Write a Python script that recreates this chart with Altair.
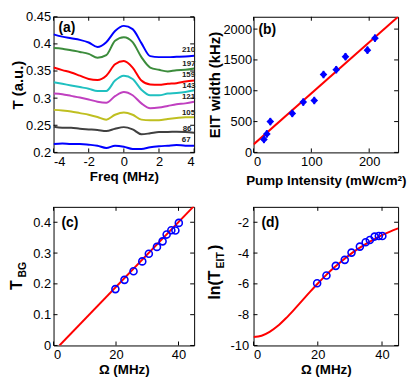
import altair as alt
import pandas as pd

FONT = "Liberation Sans"

# ---------------- panel (a) ----------------
freq = [-4, -3.5, -3, -2.5, -2, -1.5, -1, -0.5, 0, 0.5, 1, 1.5, 2, 2.5, 3, 3.5, 4]
t210 = [0.4176, 0.4134, 0.4104, 0.4074, 0.4026, 0.3942, 0.4032, 0.4236, 0.4332, 0.4272, 0.4014, 0.3774, 0.3756, 0.3756, 0.3762, 0.3768, 0.3780]
t197 = [0.3924, 0.3912, 0.3882, 0.3852, 0.3816, 0.3744, 0.3792, 0.4056, 0.4122, 0.4032, 0.3756, 0.3564, 0.3522, 0.3492, 0.3516, 0.3522, 0.3546]
t159 = [0.3564, 0.3516, 0.3474, 0.3414, 0.3354, 0.3336, 0.3414, 0.3624, 0.3684, 0.3564, 0.3324, 0.3252, 0.3246, 0.3264, 0.3276, 0.3306, 0.3324]
t143 = [0.3294, 0.3264, 0.3234, 0.3204, 0.3174, 0.3132, 0.3132, 0.3324, 0.3414, 0.3354, 0.3156, 0.3054, 0.3054, 0.3084, 0.3096, 0.3114, 0.3144]
t121 = [0.3084, 0.3072, 0.3042, 0.3012, 0.2976, 0.2934, 0.2916, 0.3036, 0.3114, 0.3054, 0.2904, 0.2814, 0.2826, 0.2856, 0.2886, 0.2904, 0.2934]
t105 = [0.2784, 0.2772, 0.2754, 0.2724, 0.2694, 0.2652, 0.2604, 0.2694, 0.2736, 0.2694, 0.2604, 0.2592, 0.2592, 0.2616, 0.2634, 0.2646, 0.2646]
t86 = [0.2472, 0.2454, 0.2454, 0.2436, 0.2424, 0.2412, 0.2394, 0.2436, 0.2466, 0.2424, 0.2334, 0.2352, 0.2376, 0.2376, 0.2382, 0.2376, 0.2364]
t67 = [0.2154, 0.2166, 0.2154, 0.2154, 0.2142, 0.2124, 0.2082, 0.2124, 0.2106, 0.2064, 0.2064, 0.2094, 0.2112, 0.2124, 0.2136, 0.2124, 0.2124]
series_names = ["210", "197", "159", "143", "121", "105", "86", "67"]
series_vals = [t210, t197, t159, t143, t121, t105, t86, t67]
series_colors = ["#0000ff", "#3c8c3c", "#ff0000", "#20c0c0", "#c040c0", "#bfbf20", "#404040", "#0000ff"]
label_x = [3.68, 3.7, 3.68, 3.7, 3.68, 3.68, 3.6, 3.55]
label_y = [0.389, 0.362, 0.342, 0.323, 0.303, 0.272, 0.243, 0.222]

# ---------------- panel (b) ----------------
pump = [18, 23, 29, 67, 86, 105, 121, 143, 159, 197, 210]
eit_width = [210, 300, 500, 632, 816, 842, 1263, 1342, 1553, 1658, 1853]
eit_err = [60, 60, 60, 60, 60, 60, 60, 60, 60, 60, 60]
fit_b_x = [0, 250]
fit_b_y = [130, 2200]

# ---------------- panel (c) ----------------
omega = [19.8, 22.7, 25.6, 28.4, 30.5, 33.1, 34.9, 36.2, 37.7, 39.0, 40.1]
t_bg = [0.183, 0.213, 0.241, 0.273, 0.298, 0.320, 0.338, 0.360, 0.374, 0.373, 0.398]
fit_c_x = [1.9, 45]
fit_c_y = [0, 0.453]

# ---------------- panel (d) ----------------
ln_teit = [-5.96, -5.46, -4.83, -4.44, -3.97, -3.58, -3.30, -3.15, -2.93, -2.89, -2.89]
fit_d_x = [0, 2.5, 5, 7.5, 10, 12.5, 15, 17.5, 20, 22.5, 25, 27.5, 30, 32.5, 35, 37.5, 40, 42.5, 45]
fit_d_y = [-9.45, -9.37, -9.12, -8.74, -8.25, -7.70, -7.12, -6.54, -5.98, -5.45, -4.96, -4.51, -4.10, -3.73, -3.40, -3.11, -2.84, -2.61, -2.40]

WL, WR = 142, 146
HT, HB = 137, 140


def axis(values, title, title_pad, label_pad, expr=None, fmt=None, size=13.5):
    kw = dict(values=values, ticks=False, domain=False, grid=False,
              labelFont=FONT, labelFontSize=13, labelColor="black", labelPadding=label_pad,
              titleFont=FONT, titleFontSize=size, titleFontWeight="bold", titleColor="black",
              titlePadding=title_pad)
    if title is not None:
        kw["title"] = title
    if expr is not None:
        kw["labelExpr"] = expr
    if fmt is not None:
        kw["format"] = fmt
    return alt.Axis(**kw)


def box_ticks(xticks, yticks, xs, ys, xax, yax, w, h, L=4):
    xdf = pd.DataFrame({"tv": xticks})
    ydf = pd.DataFrame({"tv": yticks})
    layers = []
    for y0, y1 in [(h, h - L), (0, L)]:
        layers.append(alt.Chart(xdf).mark_rule(color="black", strokeWidth=1).encode(
            x=alt.X("tv:Q", scale=xs, axis=xax), y=alt.value(y0), y2=alt.value(y1)))
    for x0, x1 in [(0, L), (w, w - L)]:
        layers.append(alt.Chart(ydf).mark_rule(color="black", strokeWidth=1).encode(
            y=alt.Y("tv:Q", scale=ys, axis=yax), x=alt.value(x0), x2=alt.value(x1)))
    return layers


def panel_label(txt, x, y):
    return alt.Chart(pd.DataFrame({"t": [txt]})).mark_text(
        font=FONT, fontSize=14, fontWeight="bold", align="left", baseline="middle", color="black"
    ).encode(text="t:N", x=alt.value(x), y=alt.value(y))


def rot_text(txt, x, y, size):
    return alt.Chart(pd.DataFrame({"t": [txt]})).mark_text(
        font=FONT, fontSize=size, fontWeight="bold", angle=270,
        align="center", baseline="middle", color="black"
    ).encode(text="t:N", x=alt.value(x), y=alt.value(y))


# ----- (a)
rows = []
for name, vals in zip(series_names, series_vals):
    for f, v in zip(freq, vals):
        rows.append({"freq": f, "T": v, "s": name})
df_a = pd.DataFrame(rows)
xs_a = alt.Scale(domain=[-4, 4], nice=False, zero=False)
ys_a = alt.Scale(domain=[0.2, 0.45], nice=False, zero=False)
xt_a = [-4, -2, 0, 2, 4]
yt_a = [0.2, 0.25, 0.3, 0.35, 0.4, 0.45]
xax_a = axis(xt_a, "Freq (MHz)", 1, 3, expr="'' + datum.value")
yax_a = axis(yt_a, "T (a.u.)", 0, 3, fmt=".2~f", size=15)
lines_a = alt.Chart(df_a).mark_line(strokeWidth=2, interpolate="monotone", clip=True).encode(
    x=alt.X("freq:Q", scale=xs_a, axis=xax_a),
    y=alt.Y("T:Q", scale=ys_a, axis=yax_a),
    color=alt.Color("s:N", scale=alt.Scale(domain=series_names, range=series_colors), legend=None),
    detail="s:N",
)
df_lab = pd.DataFrame({"x": label_x, "y": label_y, "t": series_names})
labels_a = alt.Chart(df_lab).mark_text(font=FONT, fontSize=8, fontWeight="bold", color="#222222",
                                       align="center", baseline="middle").encode(
    x=alt.X("x:Q", scale=xs_a, axis=xax_a), y=alt.Y("y:Q", scale=ys_a, axis=yax_a), text="t:N")
chart_a = alt.layer(lines_a, labels_a, *box_ticks(xt_a, yt_a, xs_a, ys_a, xax_a, yax_a, WL, HT),
                    panel_label("(a)", 5, 11)).properties(width=WL, height=HT)

# ----- (b)
df_b = pd.DataFrame({"p": pump, "w": eit_width, "lo": [w - e for w, e in zip(eit_width, eit_err)],
                     "hi": [w + e for w, e in zip(eit_width, eit_err)]})
df_bf = pd.DataFrame({"p": fit_b_x, "w": fit_b_y})
xs_b = alt.Scale(domain=[0, 250], nice=False, zero=False)
ys_b = alt.Scale(domain=[0, 2200], nice=False, zero=False)
xt_b = [0, 100, 200]
yt_b = [0, 500, 1000, 1500, 2000]
xax_b = axis(xt_b, "Pump Intensity (mW/cm²)", 5, 3)
yax_b = axis(yt_b, "EIT width (kHz)", 0, 2, fmt="d", size=15)
fit_b = alt.Chart(df_bf).mark_line(color="#ff0000", strokeWidth=2, clip=True).encode(
    x=alt.X("p:Q", scale=xs_b, axis=xax_b),
    y=alt.Y("w:Q", scale=ys_b, axis=yax_b),
)
err_b = alt.Chart(df_b).mark_rule(color="#0000ff", strokeWidth=2).encode(
    x=alt.X("p:Q", scale=xs_b, axis=xax_b), y=alt.Y("lo:Q", scale=ys_b, axis=yax_b), y2="hi:Q")
pts_b = alt.Chart(df_b).mark_point(shape="diamond", filled=True, color="#0000ff", size=60, opacity=1).encode(
    x=alt.X("p:Q", scale=xs_b, axis=xax_b), y=alt.Y("w:Q", scale=ys_b, axis=yax_b))
chart_b = alt.layer(fit_b, err_b, pts_b, *box_ticks(xt_b, yt_b, xs_b, ys_b, xax_b, yax_b, WR, HT),
                    panel_label("(b)", 5, 13)).properties(width=WR, height=HT)

# ----- (c)
df_c = pd.DataFrame({"o": omega, "t": t_bg})
df_cf = pd.DataFrame({"o": fit_c_x, "t": fit_c_y})
xs_c = alt.Scale(domain=[0, 45], nice=False, zero=False)
ys_c = alt.Scale(domain=[0, 0.45], nice=False, zero=False)
xt_c = [0, 20, 40]
yt_c = [0, 0.1, 0.2, 0.3, 0.4]
xax_c = axis(xt_c, "Ω (MHz)", 1, 3)
yax_c = axis(yt_c, " ", 0, 3, expr="'' + datum.value")
fit_c = alt.Chart(df_cf).mark_line(color="#ff0000", strokeWidth=2, clip=True).encode(
    x=alt.X("o:Q", scale=xs_c, axis=xax_c),
    y=alt.Y("t:Q", scale=ys_c, axis=yax_c),
)
pts_c = alt.Chart(df_c).mark_point(shape="circle", filled=False, color="#0000ff", size=50,
                                   strokeWidth=1.6, opacity=1).encode(
    x=alt.X("o:Q", scale=xs_c, axis=xax_c), y=alt.Y("t:Q", scale=ys_c, axis=yax_c))
chart_c = alt.layer(fit_c, pts_c, *box_ticks(xt_c, yt_c, xs_c, ys_c, xax_c, yax_c, WL, HB),
                    rot_text("T", -37, 79, 16), rot_text("BG", -31, 63.5, 10.5),
                    panel_label("(c)", 8, 16)).properties(width=WL, height=HB)

# ----- (d)
df_d = pd.DataFrame({"o": omega, "l": ln_teit})
df_df = pd.DataFrame({"o": fit_d_x, "l": fit_d_y})
ys_d = alt.Scale(domain=[-10, -1], nice=False, zero=False)
yt_d = [-10, -8, -6, -4, -2]
yax_d = axis(yt_d, " ", 0, 5, expr="'' + datum.value")
fit_d = alt.Chart(df_df).mark_line(color="#ff0000", strokeWidth=2, interpolate="monotone", clip=True).encode(
    x=alt.X("o:Q", scale=xs_c, axis=xax_c),
    y=alt.Y("l:Q", scale=ys_d, axis=yax_d),
)
pts_d = alt.Chart(df_d).mark_point(shape="circle", filled=False, color="#0000ff", size=50,
                                   strokeWidth=1.6, opacity=1).encode(
    x=alt.X("o:Q", scale=xs_c, axis=xax_c), y=alt.Y("l:Q", scale=ys_d, axis=yax_d))
chart_d = alt.layer(fit_d, pts_d, *box_ticks(xt_c, yt_d, xs_c, ys_d, xax_c, yax_d, WR, HB),
                    rot_text("ln(T", -39, 79, 16), rot_text("EIT", -33, 54, 10.5),
                    rot_text(")", -39, 41, 16),
                    panel_label("(d)", 8, 16)).properties(width=WR, height=HB)

chart = alt.concat(chart_a, chart_b, chart_c, chart_d, columns=2,
                   spacing={"row": 55, "column": 60}).properties(
    bounds="flush", padding={"left": 0, "top": 0, "right": 0, "bottom": 0}
).configure(background="white", view=alt.ViewConfig(stroke="black", strokeWidth=1))

chart.save("out.html", embed_options={"renderer": "svg", "actions": False})
